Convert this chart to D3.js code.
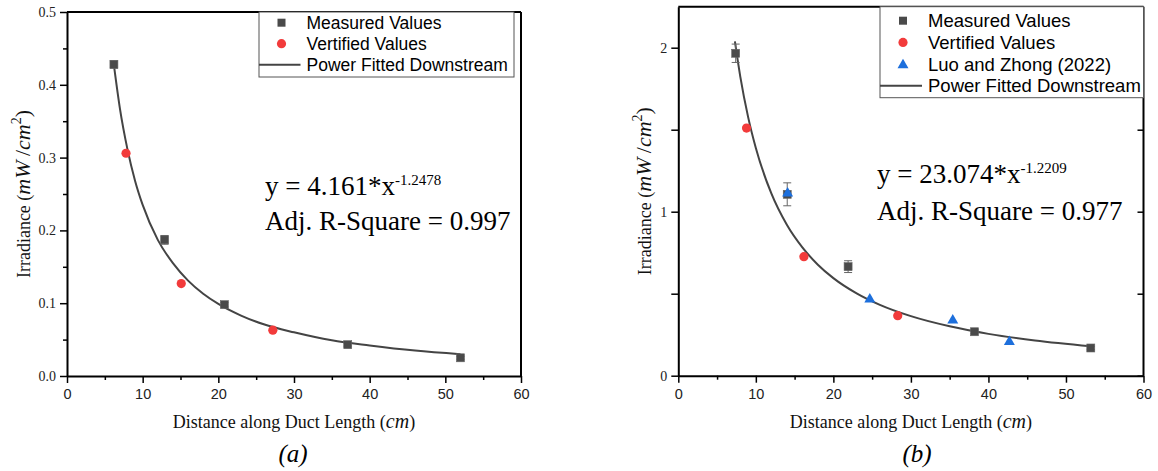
<!DOCTYPE html>
<html>
<head>
<meta charset="utf-8">
<script src="https://cdn.jsdelivr.net/npm/d3@7"></script>
<style>
  body { margin: 0; background: #fff; }
  svg { display: block; }
</style>
</head>
<body>
<div id="chart"></div>
<script>
// ---- data ----
let xTicks = [0, 10, 20, 30, 40, 50, 60];
let xMinorTicks = [5, 15, 25, 35, 45, 55];

// panel (a)
let aMeasuredX = [6.2, 12.9, 20.8, 37.1, 52.0];
let aMeasuredY = [0.428, 0.187, 0.098, 0.043, 0.025];
let aMeasuredErr = [0.005, 0.006, 0.003, 0.002, 0.002];
let aVerifiedX = [7.8, 15.1, 27.2];
let aVerifiedY = [0.306, 0.127, 0.063];
let aFitX = [6.2, 7, 8, 9, 10, 12, 14, 16, 18, 20, 23, 26, 30, 35, 40, 46, 52];
let aFitY = [0.427, 0.367, 0.311, 0.268, 0.235, 0.187, 0.155, 0.131, 0.113, 0.099, 0.083, 0.071, 0.060, 0.049, 0.042, 0.035, 0.030];
let aYTicks = [0.0, 0.1, 0.2, 0.3, 0.4, 0.5];
let aYMinorTicks = [0.05, 0.15, 0.25, 0.35, 0.45];
let aEquation = ['y = 4.161*x', '-1.2478', 'Adj. R-Square = 0.997'];
let aLegend = ['Measured Values', 'Vertified Values', 'Power Fitted Downstream'];

// panel (b)
let bMeasuredX = [7.4, 14.05, 21.9, 38.2, 53.2];
let bMeasuredY = [1.966, 1.106, 0.665, 0.268, 0.169];
let bMeasuredErr = [0.056, 0.07, 0.036, 0.012, 0.01];
let bVerifiedX = [8.8, 16.2, 28.3];
let bVerifiedY = [1.51, 0.726, 0.366];
let bLuoX = [14.1, 24.7, 35.4, 42.7];
let bLuoY = [1.118, 0.472, 0.344, 0.212];
let bFitX = [7.3, 8, 9, 10, 12, 14, 16, 18, 20, 23, 26, 30, 35, 40, 46, 53.2];
let bFitY = [2.038, 1.822, 1.578, 1.388, 1.111, 0.920, 0.782, 0.677, 0.595, 0.502, 0.432, 0.363, 0.301, 0.255, 0.215, 0.180];
let bYTicks = [0, 0.5, 1, 1.5, 2];
let bEquation = ['y = 23.074*x', '-1.2209', 'Adj. R-Square = 0.977'];
let bLegend = ['Measured Values', 'Vertified Values', 'Luo and Zhong (2022)', 'Power Fitted Downstream'];

let serif = '"Liberation Serif", "Times New Roman", serif';
let sans = '"Liberation Sans", Arial, sans-serif';
let cGray = '#4a4a4a', cRed = '#f23b3b', cBlue = '#1d6fdc', cLine = '#444';

let svg = d3.select('#chart').append('svg')
    .attr('width', 1158)
    .attr('height', 471);

function zip(xs, ys) {
    return xs.map(function (x, i) { return { x: x, y: ys[i] }; });
}

function drawPanel(p) {
    let width = p.right - p.left,
        height = p.bottom - p.top;
    let g = svg.append('g').attr('transform', 'translate(' + p.left + ',' + p.top + ')');

    let x = d3.scaleLinear().domain([0, 60]).range([0, width]);
    let y = d3.scaleLinear().domain([0, p.yMax]).range([height, 0]);

    // frame: top and right border
    g.append('line').attr('x1', 0).attr('x2', width).attr('y1', 0).attr('y2', 0)
        .attr('stroke', '#000').attr('stroke-width', 2);
    g.append('line').attr('x1', width).attr('x2', width).attr('y1', 0).attr('y2', height)
        .attr('stroke', '#000').attr('stroke-width', 2);

    // x axis
    let xAxis = g.append('g').attr('transform', 'translate(0,' + height + ')')
        .call(d3.axisBottom(x).tickValues(xTicks).tickSize(7).tickSizeOuter(0).tickPadding(6));
    g.append('g').attr('transform', 'translate(0,' + height + ')')
        .call(d3.axisBottom(x).tickValues(xMinorTicks).tickSize(4).tickFormat(''))
        .select('.domain').remove();
    xAxis.selectAll('text').attr('font-family', sans).attr('font-size', 14.5).attr('fill', '#222');

    // y axis
    let yAxis = g.append('g')
        .call(d3.axisLeft(y).tickValues(p.yTicks).tickSize(7).tickSizeOuter(0).tickPadding(4)
            .tickFormat(p.yFormat));
    yAxis.selectAll('text').attr('font-family', serif).attr('font-size', 14).attr('fill', '#222');
    if (p.yMinor) {
        g.append('g')
            .call(d3.axisLeft(y).tickValues(p.yMinor).tickSize(4).tickFormat(''))
            .select('.domain').remove();
    }
    if (p.rightTicks) {
        g.append('g').attr('transform', 'translate(' + width + ',0)')
            .call(d3.axisLeft(y).tickValues(p.yTicks).tickSize(6).tickFormat(''))
            .select('.domain').remove();
    }
    g.selectAll('.domain').attr('stroke-width', 2);
    g.selectAll('.tick line').attr('stroke-width', 1.5);

    // fitted curve
    let line = d3.line()
        .x(function (d) { return x(d.x); })
        .y(function (d) { return y(d.y); })
        .curve(d3.curveMonotoneX);
    g.append('path')
        .datum(zip(p.fitX, p.fitY))
        .attr('fill', 'none')
        .attr('stroke', cLine)
        .attr('stroke-width', 2)
        .attr('d', line);

    // error bars on measured values
    let measured = zip(p.mX, p.mY).map(function (d, i) { d.e = p.mErr[i]; return d; });
    let eb = g.selectAll('.err').data(measured).enter().append('g').attr('class', 'err')
        .attr('stroke', '#666').attr('stroke-width', 1);
    eb.append('line')
        .attr('x1', function (d) { return x(d.x); })
        .attr('x2', function (d) { return x(d.x); })
        .attr('y1', function (d) { return y(d.y - d.e); })
        .attr('y2', function (d) { return y(d.y + d.e); });
    eb.selectAll('.cap').data(function (d) { return [d.y - d.e, d.y + d.e].map(function (v) { return { x: d.x, v: v }; }); })
        .enter().append('line')
        .attr('x1', function (d) { return x(d.x) - 4; })
        .attr('x2', function (d) { return x(d.x) + 4; })
        .attr('y1', function (d) { return y(d.v); })
        .attr('y2', function (d) { return y(d.v); });

    // measured squares
    g.selectAll('.sq').data(measured).enter().append('rect')
        .attr('x', function (d) { return x(d.x) - 4; })
        .attr('y', function (d) { return y(d.y) - 4; })
        .attr('width', 8).attr('height', 8)
        .attr('fill', cGray).attr('stroke', '#666').attr('stroke-width', 0.6);

    // verified circles
    g.selectAll('.dot').data(zip(p.vX, p.vY)).enter().append('circle')
        .attr('cx', function (d) { return x(d.x); })
        .attr('cy', function (d) { return y(d.y); })
        .attr('r', 4.6)
        .attr('fill', cRed);

    // Luo and Zhong triangles
    if (p.lX) {
        let tri = d3.symbol().type(d3.symbolTriangle).size(52);
        g.selectAll('.tri').data(zip(p.lX, p.lY)).enter().append('path')
            .attr('transform', function (d) { return 'translate(' + x(d.x) + ',' + (y(d.y) + 1) + ')'; })
            .attr('d', tri)
            .attr('fill', cBlue);
    }

    // legend
    let lg = g.append('g').attr('transform', 'translate(' + (p.legX - p.left) + ',0)');
    lg.append('rect')
        .attr('x', 0).attr('y', 0)
        .attr('width', p.legW).attr('height', p.legH)
        .attr('fill', '#fff').attr('stroke', '#555').attr('stroke-width', 1);
    p.legend.forEach(function (name, i) {
        let cy = p.legRow0 + i * p.legStep;
        let sx = p.legSym;
        if (i === p.legend.length - 1) {
            lg.append('line').attr('x1', 0).attr('x2', p.legText - 6)
                .attr('y1', cy).attr('y2', cy)
                .attr('stroke', cLine).attr('stroke-width', 2);
        } else if (i === 0) {
            lg.append('rect').attr('x', sx - 4).attr('y', cy - 4).attr('width', 8).attr('height', 8)
                .attr('fill', cGray);
        } else if (i === 1) {
            lg.append('circle').attr('cx', sx).attr('cy', cy).attr('r', 4.6).attr('fill', cRed);
        } else {
            lg.append('path').attr('transform', 'translate(' + sx + ',' + (cy + 1) + ')')
                .attr('d', d3.symbol().type(d3.symbolTriangle).size(52)).attr('fill', cBlue);
        }
        lg.append('text')
            .attr('x', p.legText).attr('y', cy)
            .attr('dominant-baseline', 'central')
            .attr('font-family', sans).attr('font-size', p.legFont)
            .attr('fill', '#000')
            .text(name);
    });

    // equation
    let eq = svg.append('text')
        .attr('x', p.eqX).attr('y', p.eqY)
        .attr('font-family', serif).attr('font-size', 27).attr('fill', '#000');
    eq.append('tspan').text(p.equation[0]);
    eq.append('tspan').attr('dy', -10).attr('font-size', 15).text(p.equation[1]);
    svg.append('text')
        .attr('x', p.eqX).attr('y', p.eqY + p.eqGap)
        .attr('font-family', serif).attr('font-size', 27).attr('fill', '#000')
        .text(p.equation[2]);

    // x axis title
    let xt = svg.append('text')
        .attr('x', p.left + width / 2).attr('y', p.bottom + 52)
        .attr('text-anchor', 'middle')
        .attr('font-family', serif).attr('font-size', 18).attr('fill', '#111');
    xt.append('tspan').text('Distance along Duct Length (');
    xt.append('tspan').attr('font-style', 'italic').attr('font-size', 20).text('cm');
    xt.append('tspan').text(')');

    // y axis title
    let yt = svg.append('text')
        .attr('transform', 'translate(' + p.yTitleX + ',' + (p.top + height / 2) + ') rotate(-90)')
        .attr('text-anchor', 'middle')
        .attr('font-family', serif).attr('font-size', 18).attr('fill', '#111');
    yt.append('tspan').text('Irradiance (');
    yt.append('tspan').attr('font-style', 'italic').attr('font-size', 22).text('mW');
    yt.append('tspan').attr('font-size', 22).text('\u2009/');
    yt.append('tspan').attr('font-style', 'italic').attr('font-size', 22).text('cm');
    yt.append('tspan').attr('font-size', 14).attr('dy', -9).text('2');
    yt.append('tspan').attr('dy', 9).attr('font-size', 22).text(')');

    // panel label
    svg.append('text')
        .attr('x', p.labelX).attr('y', 462)
        .attr('text-anchor', 'middle')
        .attr('font-family', serif).attr('font-style', 'italic').attr('font-size', 25)
        .attr('fill', '#000')
        .text(p.label);
}

drawPanel({
    left: 67, right: 521, top: 12, bottom: 376, yMax: 0.5,
    yTicks: aYTicks, yMinor: aYMinorTicks, yFormat: d3.format('.1f'), rightTicks: false,
    mX: aMeasuredX, mY: aMeasuredY, mErr: aMeasuredErr,
    vX: aVerifiedX, vY: aVerifiedY,
    fitX: aFitX, fitY: aFitY,
    legend: aLegend, legX: 259, legW: 255, legH: 65, legRow0: 10.7, legStep: 21,
    legSym: 22.5, legText: 47.5, legFont: 17.5,
    equation: aEquation, eqX: 265, eqY: 195, eqGap: 35,
    yTitleX: 30, labelX: 293, label: '(a)'
});

drawPanel({
    left: 678.3, right: 1143.5, top: 6.7, bottom: 375.7, yMax: 2.25,
    yTicks: bYTicks, yMinor: null,
    yFormat: function (d) { return d % 1 === 0 ? d : ''; }, rightTicks: true,
    mX: bMeasuredX, mY: bMeasuredY, mErr: bMeasuredErr,
    vX: bVerifiedX, vY: bVerifiedY,
    lX: bLuoX, lY: bLuoY,
    fitX: bFitX, fitY: bFitY,
    legend: bLegend, legX: 880, legW: 263.5, legH: 91, legRow0: 14, legStep: 21.7,
    legSym: 23, legText: 48, legFont: 18.5,
    equation: bEquation, eqX: 877, eqY: 183, eqGap: 37,
    yTitleX: 650.5, labelX: 917, label: '(b)'
});
</script>
</body>
</html>
